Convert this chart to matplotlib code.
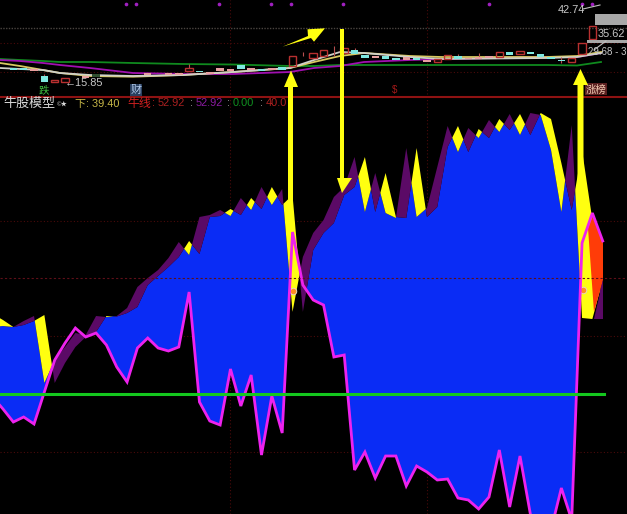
import numpy as np
import matplotlib
matplotlib.use("Agg")
import matplotlib.pyplot as plt

FONT = ['Liberation Sans', 'Noto Sans CJK SC', 'DejaVu Sans']
plt.rcParams['font.family'] = FONT

# ---- oscillator panel data (index -1 .. 58) ----
days = np.arange(-1, 59)
bull_line = [397, 409, 422, 417, 424, 392, 360, 343, 328, 337, 333, 345, 367, 382, 348, 338, 348, 351, 347, 292,
             402, 421, 425, 369, 406, 375, 455, 396, 433, 232, 285, 300, 305, 357, 355, 470, 452, 478, 456, 456,
             486, 466, 472, 480, 479, 498, 500, 509, 497, 450, 507, 456, 514, 540, 530, 488, 520, 243, 213, 241]
ribbon_a = [327, 326, 327, 321, 316, 383, 360, 347, 333, 335, 316, 317, 316, 308, 287, 278, 270, 258, 242, 255,
            217, 215, 210, 216, 198, 210, 187, 205, 189, 312, 257, 233, 220, 197, 187, 157, 212, 173, 213, 218,
            148, 217, 208, 167, 126, 152, 128, 138, 120, 132, 114, 135, 113, 115, 150, 212, 125, 318, 319, 280]
ribbon_b = [314, 320, 327, 325, 321, 315, 383, 363, 347, 337, 332, 316, 316.5, 313, 307, 285, 276, 267, 257, 241,
            254, 217, 216, 209, 215, 198, 209, 187, 205, 195, 312, 250, 233, 223, 195, 187, 157, 212, 173, 217,
            218, 148, 217, 207, 147, 126, 152, 129, 138, 119, 130, 114, 135, 113, 119, 163, 210, 150, 220, 319]
level_line = 394
grid_low = [220.7, 336, 451.5]
grid_mid = 278
grid_top = [43, 72]
grid_gray = 28
grid_v = [22, 41]

# ---- price panel data ----
candle_idx = [1, 2, 3, 4, 5, 6, 8, 9, 14, 16, 17, 18, 19, 20, 21, 22, 23, 24, 25, 26, 27, 28, 30, 31, 33, 34, 35, 36,
              37, 38, 39, 40, 41, 42, 43, 44, 45, 46, 47, 48, 49, 50, 51, 52, 53, 54, 55, 56, 57]
candle_top = [68, 68, 69, 76, 80, 78, 76, 74, 73, 73, 73, 68, 71, 72, 68, 69, 65, 68, 69, 68, 67, 56, 53, 50, 48, 50,
              55, 56, 56, 58, 57, 58, 60, 59, 55, 56, 58, 57, 56, 52, 52, 51, 52, 54, 57, 60, 58, 43, 26]
candle_bot = [70, 70, 71, 82, 82, 82, 78, 77, 75, 75, 75, 71, 72, 74, 71, 71, 69, 70, 71, 70, 70, 66, 58, 56, 53, 54,
              58, 58, 59, 60, 60, 60, 62, 62, 59, 59, 59, 59, 58, 57, 55, 54, 54, 57, 59, 61, 62, 54, 39]
candle_kind = ['c', 'c', 'p', 'c', 'r', 'r', 'p', 'g', 'p', 'p', 'p', 'r', 'c', 'p', 'p', 'p', 'c', 'p', 'c', 'p',
               'c', 'r', 'r', 'r', 'r', 'c', 'c', 'p', 'c', 'c', 'p', 'c', 'p', 'r', 'r', 'c', 'p', 'p', 'p', 'r',
               'c', 'r', 'c', 'c', 'c', 'c', 'r', 'r', 'r']
wick_idx = [4, 18, 29, 32, 34, 44, 46, 54]
wick_top = [74, 64, 52, 46, 48, 54, 53, 57]
wick_bot = [76, 68, 56, 56, 50, 56, 57, 63]
kind_colors = {'c': '#7fe8e0', 'p': '#e8a0a0', 'g': '#305030', 'r': '#b83030'}

ma_x = [0, 20, 43, 60, 90, 133, 183, 233, 290, 314, 340, 364, 410, 441, 547, 577, 601]
ma_green = [59, 60, 61, 62, 62, 63, 64, 64.5, 66, 66, 65, 65, 65, 65, 65, 65.5, 62]
ma_purple = [60, 61, 63, 65, 68, 73, 74, 74, 72, 68, 66, 62, 60, 59, 57, 57, 53]
ma_yellow = [63, 66, 70, 73, 76, 76.7, 75, 72, 68, 62, 56, 53, 56, 57, 57, 56, 52]
ma_white = [68, 69, 70, 73, 75, 76, 75, 72, 68, 60, 52, 53, 57, 59, 58, 57, 53]
signal_px = [126, 136, 219, 271, 291, 343, 489, 582, 592]

X0, STEP = 3.0, 10.34
def xp(p):
    return (np.asarray(p, dtype=float) - X0) / STEP

fig = plt.figure(figsize=(6.27, 5.14), dpi=100, facecolor='black')
ax = fig.add_axes([0, 0, 1, 1], facecolor='black')
ax.set_xlim(xp(0), xp(627))
ax.set_ylim(514, 0)
ax.axis('off')

# grids
for y in grid_low + grid_top:
    ax.axhline(y, color='#4a0a0a', lw=0.8, ls=(0, (1, 2)), zorder=1)
ax.axhline(grid_gray, color='#4a4440', lw=1, ls=(0, (1, 1)), zorder=1)
for v in grid_v:
    ax.axvline(v, color='#4a0a0a', lw=0.8, ls=(0, (1, 2)), zorder=1)
ax.axhline(97, color='#8e1212', lw=1.5, zorder=2)

# oscillator, rendered piecewise-linear on a fine drawing grid
xf = np.linspace(days[0], days[-1], 6000)
af = np.interp(xf, days, ribbon_a)
bf = np.interp(xf, days, ribbon_b)
mf = np.interp(xf, days, bull_line)
lower = np.maximum(af, bf)
ax.fill_between(xf, lower, mf, where=mf > lower, color='#0a2cf5', lw=0, zorder=3)
ax.fill_between(xf, af, bf, where=af < bf, color='#5b0a66', lw=0, zorder=4)
ax.fill_between(xf, af, bf, where=bf < af, color='#ffff10', lw=0, zorder=4)
# final rising wedge and its purple foot
ax.fill(xp([588, 593, 603, 603, 594]), [228, 215, 241, 280, 312], color='#ff3c08', lw=0, zorder=5)
ax.fill(xp([594, 603, 603]), [319, 280, 319], color='#5b0a66', lw=0, zorder=5)
ax.plot(days, bull_line, color='#ee22ee', lw=2.0, zorder=6, solid_joinstyle='miter')
ax.plot(xp([0, 604]), [level_line, level_line], color='#14c81e', lw=2.2, zorder=6)
ax.axhline(grid_mid, color='#5e0f18', lw=0.8, ls=(0, (2, 2)), zorder=7)

# price panel
for m, c in ((ma_green, '#0f8a1e'), (ma_purple, '#a010b0'), (ma_yellow, '#d8c860'), (ma_white, '#d0d0c8')):
    ax.plot(xp(ma_x), m, color=c, lw=1.3, zorder=3)
for i, t, b, k in zip(candle_idx, candle_top, candle_bot, candle_kind):
    if k == 'r':
        ax.bar(i, b - t, bottom=t, width=0.72, facecolor='none', edgecolor='#b83030', lw=1, zorder=4)
    else:
        ax.bar(i, b - t, bottom=t, width=0.72, color=kind_colors[k], lw=0, zorder=4)
ax.vlines(wick_idx, wick_top, wick_bot, color='#b85050', lw=0.8, zorder=3)
ax.scatter(xp(signal_px), [3.5] * len(signal_px), s=7, color='#a020c0', zorder=4, lw=0)

# right-side price tags
ax.fill(xp([595, 627, 627, 595]), [14, 14, 25, 25], color='#a8a8a8', lw=0, zorder=4)
ax.fill(xp([587, 627, 627, 587]), [40, 40, 43, 43], color='#a8a8a8', lw=0, zorder=4)
ax.plot(xp([583, 600]), [9, 5], color='#c0c0c0', lw=0.8, zorder=4)
ax.plot(xp([594, 606]), [50, 41], color='#c0c0c0', lw=0.8, zorder=4)

# arrows
Y = '#ffff10'
ax.fill(xp([288, 293, 293, 298, 291, 284, 288]), [230, 230, 87, 87, 70.5, 87, 87], color=Y, lw=0, zorder=5)
ax.fill(xp([577.5, 583.5, 583.5, 588, 580.5, 573, 577.5]), [220, 220, 85, 85, 69, 85, 85], color=Y, lw=0, zorder=5)
ax.fill(xp([340, 344, 344, 352, 342, 337, 340]), [29, 29, 178, 178, 193, 178, 178], color=Y, lw=0, zorder=5)
ax.fill(xp([282.5, 308, 307.5, 325, 314, 311]), [46.7, 36, 29.3, 28.3, 41.7, 38], color=Y, lw=0, zorder=5)

# target rings
for px_x, py in ((292.5, 291), (583, 290)):
    ax.scatter(xp(px_x), py, s=22, facecolor='#ff9020', edgecolor='#e8d8c0', lw=0.7, zorder=5.5)

# texts
def label(px_x, py, s, color, size=8, **kw):
    ax.text(xp(px_x), py, s, color=color, fontsize=size, va='center', ha='left', zorder=4, family=FONT, **kw)

label(3, 103.5, '牛股模型', '#d8d8d8', 9.4)
label(57, 104, '©★', '#d8d8d8', 4.5)
label(75, 103.5, '下: 39.40', '#c8b848', 7.9)
label(127, 103.5, '牛线', '#d02020', 8.6)
label(152, 103.5, ':', '#c02020', 7.9)
label(158, 103.5, '52.92', '#a82020', 7.9)
label(190, 103.5, ':', '#a0a0a0', 7.9)
label(196, 103.5, '52.92', '#8a1aa0', 7.9)
label(227, 103.5, ':', '#a0a0a0', 7.9)
label(233, 103.5, '0.00', '#109020', 7.9)
label(260, 103.5, ':', '#a0a0a0', 7.9)
label(266, 103.5, '40.0', '#b02020', 7.9)
label(65, 83, '←15.85', '#c8c8c8', 7.9)
label(39, 90, '跌', '#40c040', 7.5)
ax.fill(xp([130, 142, 142, 130]), [84, 84, 96, 96], color='#2a4060', lw=0, zorder=3)
label(130.5, 90, '财', '#b0c8e8', 8)
label(392, 90, '$', '#a01818', 7)
ax.fill(xp([585, 607, 607, 585]), [83, 83, 95, 95], color='#5a2020', lw=0, zorder=3)
label(586, 90, '涨榜', '#f0c8b0', 7.5)
label(558, 10, '42.74', '#c8c8c8', 7.9)
label(598, 34, '35.62', '#c8c8c8', 7.9)
label(588, 52, '29.68 - 3', '#c8c8c8', 7.0)

fig.savefig('out.png', dpi=100, facecolor='black')
